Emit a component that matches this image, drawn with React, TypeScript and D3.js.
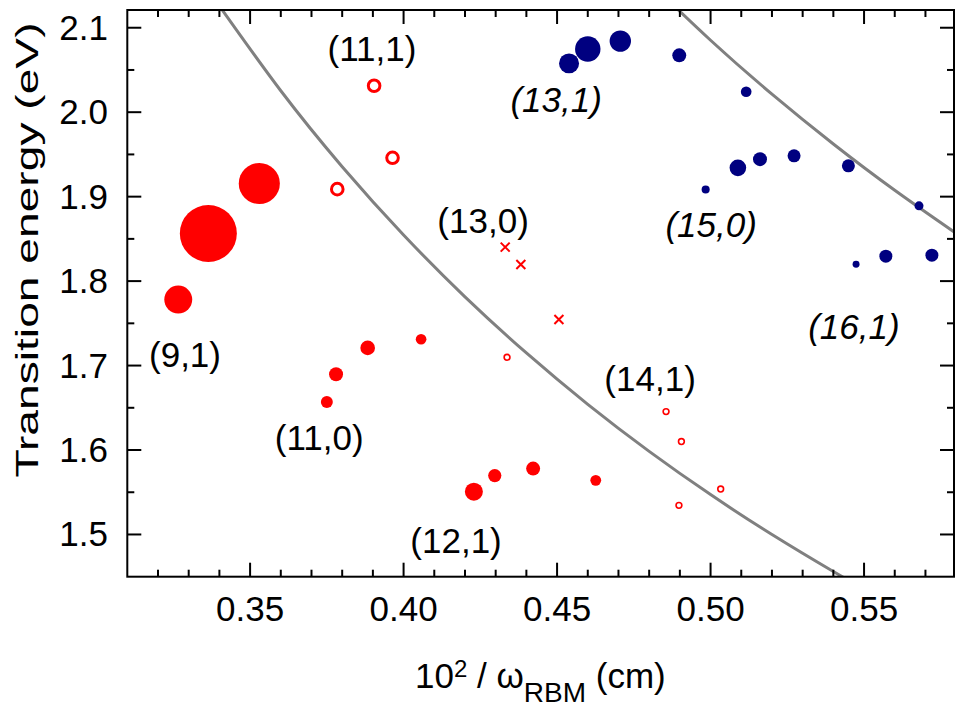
import React from "react";
import * as d3 from "d3";

// ---------- data ----------
const xTicksMajor = [0.35, 0.4, 0.45, 0.5, 0.55];
const xTickLabels = ["0.35", "0.40", "0.45", "0.50", "0.55"];
const xTicksMinor = [0.32, 0.33, 0.34, 0.36, 0.37, 0.38, 0.39, 0.41, 0.42, 0.43, 0.44, 0.46, 0.47, 0.48, 0.49, 0.51, 0.52, 0.53, 0.54, 0.56, 0.57];
const yTicksMajor = [1.5, 1.6, 1.7, 1.8, 1.9, 2.0, 2.1];
const yTickLabels = ["1.5", "1.6", "1.7", "1.8", "1.9", "2.0", "2.1"];
const yTicksMinor = [1.55, 1.65, 1.75, 1.85, 1.95, 2.05];

// [x, E, intensity]
const redFilled: [number, number, number][] = [
  [0.3266, 1.7782, 24], [0.3364, 1.8564, 100], [0.353, 1.9156, 52],
  [0.375, 1.6569, 4.4], [0.378, 1.6897, 6.0], [0.3883, 1.7209, 6.6], [0.4057, 1.7312, 3.5],
  [0.4229, 1.5507, 10], [0.4297, 1.5697, 5.4], [0.4422, 1.578, 6.0], [0.4626, 1.5641, 3.6],
];
const redOpenThick: [number, number][] = [
  [0.3904, 2.0313], [0.3964, 1.946], [0.3784, 1.9089],
];
const redOpenThin: [number, number][] = [
  [0.4337, 1.7098], [0.4855, 1.6455], [0.4905, 1.61], [0.5033, 1.5538], [0.4897, 1.5345],
];
const redCross: [number, number][] = [
  [0.4331, 1.8402], [0.4382, 1.8197], [0.4506, 1.7545],
];
const blueFilled: [number, number, number][] = [
  [0.4539, 2.0578, 12.3], [0.46, 2.0748, 19.9], [0.4706, 2.0842, 14.1], [0.4898, 2.0673, 6.0], [0.5116, 2.0242, 3.5],
  [0.4984, 1.9085, 2.0], [0.5089, 1.9341, 8.5], [0.5161, 1.9444, 6.0], [0.5272, 1.9483, 5.2], [0.5449, 1.9365, 5.2], [0.5679, 1.8891, 2.5],
  [0.5474, 1.82, 1.5], [0.5571, 1.8295, 5.2], [0.5721, 1.8307, 5.2],
];
const curve1: [number, number][] = [
  [0.34, 2.1258], [0.36, 2.0254], [0.38, 1.9355], [0.4, 1.8546], [0.42, 1.7814], [0.44, 1.7149],
  [0.46, 1.6541], [0.48, 1.5984], [0.5, 1.5472], [0.52, 1.4999], [0.54, 1.4561], [0.55, 1.4354],
];
const curve2: [number, number][] = [
  [0.48, 2.1543], [0.5, 2.0852], [0.52, 2.0214], [0.54, 1.9624], [0.56, 1.9076], [0.58, 1.8566],
];
const labels: { t: string; x: number; y: number; it: boolean }[] = [
  { t: "(11,1)", x: 0.3897, y: 2.0605, it: false },
  { t: "(9,1)", x: 0.3288, y: 1.698, it: false },
  { t: "(11,0)", x: 0.3725, y: 1.5997, it: false },
  { t: "(12,1)", x: 0.4171, y: 1.4776, it: false },
  { t: "(13,0)", x: 0.4259, y: 1.8568, it: false },
  { t: "(14,1)", x: 0.4803, y: 1.6695, it: false },
  { t: "(13,1)", x: 0.4497, y: 2.0001, it: true },
  { t: "(15,0)", x: 0.5002, y: 1.852, it: true },
  { t: "(16,1)", x: 0.5467, y: 1.7312, it: true },
];

// ---------- layout ----------
const W = 968, H = 713;
const L = 127.3, R = 954, T = 10, B = 576.7;
const FONT = "'Liberation Sans', Arial, Helvetica, sans-serif";
const FS = 35;

export default function App() {
  const x = d3.scaleLinear().domain([0.31, 0.5793]).range([L, R]);
  const y = d3.scaleLinear().domain([1.45, 2.121]).range([B, T]);
  const rScale = d3.scaleSqrt().domain([0, 100]).range([0, 28.5]);
  const line = d3.line<[number, number]>().x((d) => x(d[0])).y((d) => y(d[1])).curve(d3.curveNatural);
  const MAJ = 14, MIN = 7;
  const red = "#ff0000", blue = "#000080", gray = "#808080";

  return (
    <svg width={W} height={H} style={{ position: "absolute", left: 0, top: 0, background: "#fff" }} fontFamily={FONT}>
      <defs>
        <clipPath id="plot">
          <rect x={L} y={T} width={R - L} height={B - T} />
        </clipPath>
      </defs>
      <g clipPath="url(#plot)">
        <path d={line(curve1) || ""} fill="none" stroke={gray} strokeWidth={3} />
        <path d={line(curve2) || ""} fill="none" stroke={gray} strokeWidth={3} />
      </g>
      {redFilled.map((d, i) => (
        <circle key={"rf" + i} cx={x(d[0])} cy={y(d[1])} r={rScale(d[2])} fill={red} />
      ))}
      {redOpenThick.map((d, i) => (
        <circle key={"ro" + i} cx={x(d[0])} cy={y(d[1])} r={5.8} fill="none" stroke={red} strokeWidth={3} />
      ))}
      {redOpenThin.map((d, i) => (
        <circle key={"rt" + i} cx={x(d[0])} cy={y(d[1])} r={2.9} fill="none" stroke={red} strokeWidth={1.6} />
      ))}
      {redCross.map((d, i) => {
        const cx = x(d[0]), cy = y(d[1]), s = 4.5;
        return (
          <path key={"rc" + i} d={`M${cx - s},${cy - s}L${cx + s},${cy + s}M${cx - s},${cy + s}L${cx + s},${cy - s}`} stroke={red} strokeWidth={2} />
        );
      })}
      {blueFilled.map((d, i) => (
        <circle key={"bf" + i} cx={x(d[0])} cy={y(d[1])} r={rScale(d[2])} fill={blue} />
      ))}
      {labels.map((l, i) => (
        <text key={"lb" + i} x={x(l.x)} y={y(l.y)} fontSize={FS} textAnchor="middle" fontStyle={l.it ? "italic" : "normal"} fill="#000">
          {l.t}
        </text>
      ))}
      {/* frame */}
      <rect x={L} y={T} width={R - L} height={B - T} fill="none" stroke="#000" strokeWidth={2} />
      {/* x ticks */}
      {xTicksMajor.map((v, i) => (
        <g key={"xm" + i}>
          <line x1={x(v)} x2={x(v)} y1={B} y2={B - MAJ} stroke="#000" strokeWidth={2} />
          <line x1={x(v)} x2={x(v)} y1={T} y2={T + MAJ} stroke="#000" strokeWidth={2} />
          <text x={x(v)} y={621} fontSize={FS} textAnchor="middle">{xTickLabels[i]}</text>
        </g>
      ))}
      {xTicksMinor.map((v, i) => (
        <g key={"xn" + i}>
          <line x1={x(v)} x2={x(v)} y1={B} y2={B - MIN} stroke="#000" strokeWidth={2} />
          <line x1={x(v)} x2={x(v)} y1={T} y2={T + MIN} stroke="#000" strokeWidth={2} />
        </g>
      ))}
      {yTicksMajor.map((v, i) => (
        <g key={"ym" + i}>
          <line x1={L} x2={L + MAJ} y1={y(v)} y2={y(v)} stroke="#000" strokeWidth={2} />
          <line x1={R} x2={R - MAJ} y1={y(v)} y2={y(v)} stroke="#000" strokeWidth={2} />
          <text x={108} y={y(v) + 12} fontSize={FS} textAnchor="end">{yTickLabels[i]}</text>
        </g>
      ))}
      {yTicksMinor.map((v, i) => (
        <g key={"yn" + i}>
          <line x1={L} x2={L + MIN} y1={y(v)} y2={y(v)} stroke="#000" strokeWidth={2} />
          <line x1={R} x2={R - MIN} y1={y(v)} y2={y(v)} stroke="#000" strokeWidth={2} />
        </g>
      ))}
      {/* axis titles */}
      <text transform="translate(38,250) rotate(-90)" fontSize={32} textAnchor="middle" textLength={455} lengthAdjust="spacingAndGlyphs">Transition energy (eV)</text>
      <text x={415} y={688} fontSize={FS} textAnchor="start">
        10<tspan dy={-11} fontSize={24}>2</tspan>
        <tspan dy={11}> / ω</tspan>
        <tspan dy={14} fontSize={28}>RBM</tspan>
        <tspan dy={-14}> (cm)</tspan>
      </text>
    </svg>
  );
}
